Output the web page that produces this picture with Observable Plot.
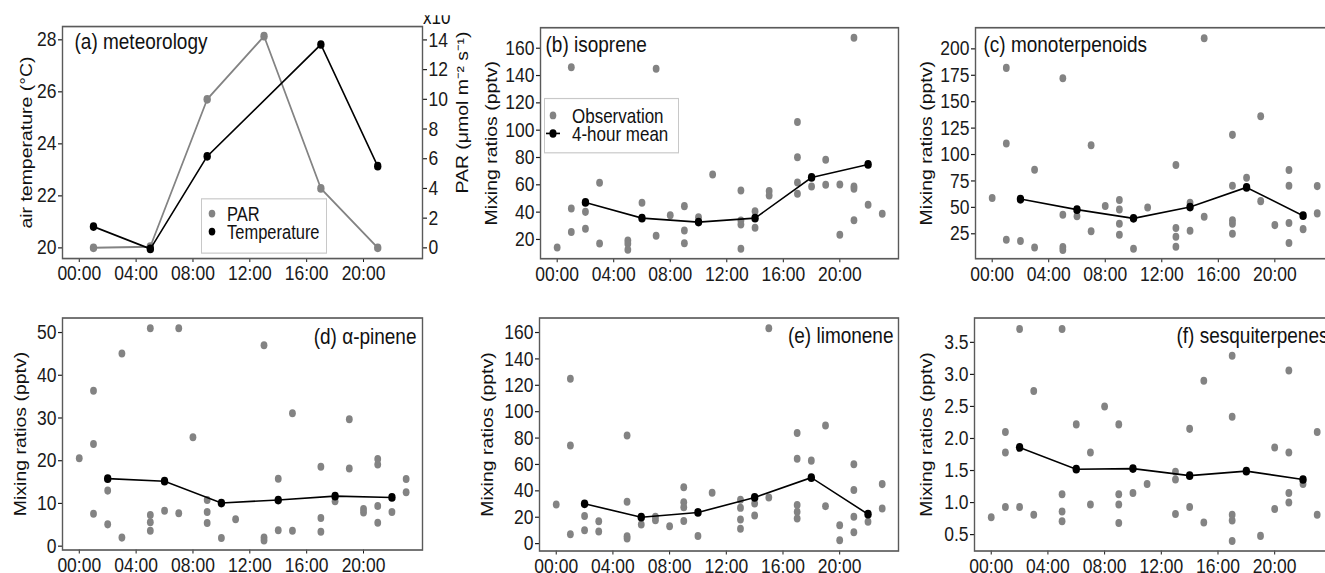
<!DOCTYPE html>
<html>
<head>
<meta charset="utf-8">
<script src="https://cdn.jsdelivr.net/npm/d3@7"></script>
<script src="https://cdn.jsdelivr.net/npm/@observablehq/plot@0.6"></script>
<style>
  html, body { margin: 0; padding: 0; background: #fff; }
  #fig { position: relative; width: 1325px; height: 573px; overflow: hidden; background: #fff;
         font-family: "Liberation Sans", Arial, sans-serif; color: #1a1a1a; }
  #inner { position: absolute; left: 0; top: 0; width: 1325px; transform-origin: 0 0; }
  #inner svg { position: absolute; overflow: visible; }
  .legend { position: absolute; box-sizing: border-box; border: 1.4px solid #c8c8c8; background: #fff; }
</style>
</head>
<body>
<div id="fig"><div id="inner"></div></div>
<script>
// ---------------- DATA ----------------
const xTicks = [0, 4, 8, 12, 16, 20];
const meanHours = [2, 6, 10, 14, 18, 22];

// (a) meteorology
const parHours = [1, 5, 9, 13, 17, 21];
const parValues = [0, 0.08, 10, 14.25, 4, 0];
const tempHours = [1, 5, 9, 17, 21];
const tempValues = [20.82, 19.96, 23.52, 27.82, 23.14];
const tempTicks = [20, 22, 24, 26, 28];
const parTicks = [0, 2, 4, 6, 8, 10, 12, 14];

// (b) isoprene observations [hour, pptv]
const isoprene = [[0,14.1],[1,146],[1,42.7],[1,25.4],[2,40.2],[2,27.8],[3,61.5],[3,17],[5,19.3],[5,16.8],[5,12.4],
  [6,46.8],[7,145],[7,22.7],[8,37.8],[9,44.4],[9,26.6],[9,17.3],[10,36.3],[11,67.6],[13,55.9],[13,33.9],[13,31],
  [13,13.2],[14,40.7],[14,28.5],[15,55.4],[15,52.2],[17,106],[17,80.2],[17,61.7],[17,53.4],[18,58.8],[19,78.3],
  [19,60],[20,60.2],[20,23.4],[21,167.6],[21,58.8],[21,57.1],[21,34.1],[22,45.4],[23,38.8]];
const isopreneMean = [47.1, 35.6, 32.7, 35.6, 65.4, 74.9];
const isopreneTicks = [20, 40, 60, 80, 100, 120, 140, 160];

// (c) monoterpenoids
const monoterpenoids = [[0,58.9],[1,182],[1,110.5],[1,19.4],[2,57.3],[2,18.1],[3,85.6],[3,12.1],[5,172.2],[5,43.1],
  [5,12.4],[5,9.6],[6,41.5],[7,108.8],[7,27.5],[8,51.2],[9,56.9],[9,48],[9,34.5],[9,24.1],[10,10.9],[11,49.9],
  [13,90],[13,30.4],[13,22.2],[13,12.7],[14,54.4],[14,27.9],[15,210],[15,41.2],[17,118.6],[17,70.4],[17,37.9],
  [17,34.5],[17,25],[18,78],[19,136.3],[19,55.9],[20,33.2],[21,85.3],[21,70.4],[21,35.1],[21,16.2],[22,29.4],
  [23,70.1],[23,44.3]];
const monoterpenoidsMean = [57.9, 47.8, 39.6, 50.3, 68.9, 42.1];
const monoterpenoidsTicks = [25, 50, 75, 100, 125, 150, 175, 200];

// (d) alpha-pinene
const apinene = [[0,20.6],[1,36.4],[1,23.9],[1,7.6],[2,13.0],[2,5.1],[3,45.1],[3,2.0],[5,51],[5,7.3],[5,5.6],[5,3.6],
  [6,8.3],[7,51],[7,7.7],[8,25.5],[9,10.8],[9,8.0],[9,5.4],[10,1.9],[11,6.3],[13,47],[13,2.0],[13,1.3],[14,15.8],
  [14,3.7],[15,31.1],[15,3.6],[17,18.6],[17,6.6],[17,3.4],[18,10.5],[19,29.7],[19,18.2],[20,8.7],[20,7.9],
  [21,20.4],[21,19.1],[21,9.4],[21,5.5],[22,8.0],[23,15.7],[23,12.6]];
const apineneMean = [15.8, 15.2, 10.1, 10.8, 11.7, 11.4];
const apineneTicks = [0, 10, 20, 30, 40, 50];

// (e) limonene
const limonene = [[0,29.7],[1,125],[1,74.3],[1,7.1],[2,21],[2,10.1],[3,17],[3,9.1],[5,81.9],[5,31.7],[5,5.6],[5,3.8],
  [6,14.5],[7,20.3],[7,17.7],[8,13.2],[9,42.8],[9,31.4],[9,27.6],[9,17.2],[10,5.8],[11,38.5],[13,33.2],[13,27.1],
  [13,18.3],[13,11.2],[14,30.4],[14,21.3],[15,163.3],[15,35],[17,83.9],[17,64.4],[17,29.2],[17,24.1],[17,19.0],
  [18,62.9],[19,89.5],[19,28.4],[20,13.9],[20,2.5],[21,60.1],[21,40.6],[21,20.3],[21,8.6],[22,16.5],[23,45.1],[23,26.6]];
const limoneneMean = [30.2, 20.0, 23.6, 35.0, 50.0, 22.3];
const limoneneTicks = [0, 20, 40, 60, 80, 100, 120, 140, 160];

// (f) sesquiterpenes
const sesquiterpenes = [[0,0.77],[1,2.10],[1,1.78],[1,0.93],[2,3.71],[2,0.93],[3,2.74],[3,0.81],[5,3.71],[5,1.13],
  [5,0.86],[5,0.71],[6,2.22],[7,1.78],[7,0.97],[8,2.50],[9,2.22],[9,1.13],[9,0.97],[9,0.68],[10,1.15],[11,1.29],
  [13,1.48],[13,1.36],[13,0.82],[14,2.15],[14,0.93],[15,2.90],[15,0.69],[17,3.29],[17,2.34],[17,0.81],[17,0.72],
  [17,0.40],[19,0.48],[20,1.86],[20,0.90],[21,3.06],[21,1.78],[21,1.15],[21,1.00],[22,1.29],[23,2.10],[23,0.81]];
const sesquiterpenesMean = [1.86, 1.52, 1.53, 1.42, 1.49, 1.36];
const sesquiterpenesTicks = [0.5, 1.0, 1.5, 2.0, 2.5, 3.0, 3.5];

// ---------------- LAYOUT ----------------
// The original figure is slightly stretched vertically; we draw in an unstretched
// space and stretch the whole figure with a CSS scaleY.
const S = 1.18;
const fig = document.getElementById("fig");
const inner = document.getElementById("inner");
inner.style.height = (573 / S) + "px";
inner.style.transform = `scaleY(${S})`;

const FONT = '"Liberation Sans", Arial, sans-serif';
const GRAY = "#838383";
const FRAME = "#5a5a5a";
const TICKFS = 17.5, TITLEFS = 19, AXLABFS = 16.5;
const xDomain = [-1.18, 24.15];
const hhmm = d => String(d).padStart(2, "0") + ":00";
const mL = 110, mT = 40, mR = 70, mB = 45;

function place(svg, x0, y0) {
  svg.style.left = (x0 - mL) + "px";
  svg.style.top = (y0 / S - mT) + "px";
  inner.appendChild(svg);
}

function baseOpts(frame, yDomain) {
  const [x0, y0, x1, y1] = frame;
  return {
    width: (x1 - x0) + mL + mR,
    height: (y1 - y0) / S + mT + mB,
    marginLeft: mL, marginTop: mT, marginRight: mR, marginBottom: mB,
    style: { background: "transparent", overflow: "visible", fontFamily: FONT, fontSize: TICKFS + "px", color: "#1a1a1a" },
    x: { domain: xDomain, ticks: xTicks, tickFormat: hhmm, tickSize: 3.5, tickPadding: 2.6, label: null },
    y: { domain: yDomain, label: null, tickSize: 4, tickPadding: 2 }
  };
}

function panel(cfg) {
  const opts = baseOpts(cfg.frame, cfg.yDomain);
  opts.y.ticks = cfg.yTicks;
  opts.y.tickFormat = cfg.yFmt || (d => String(d));
  const obs = cfg.obs.map(([h, v]) => ({ h, v }));
  const mean = meanHours.map((h, i) => ({ h, v: cfg.mean[i] }));
  const right = cfg.titleSide === "right";
  opts.marks = [
    Plot.dot(obs, { x: "h", y: "v", r: 3.4, fill: GRAY, stroke: "none" }),
    Plot.line(mean, { x: "h", y: "v", stroke: "#000", strokeWidth: 1.4 }),
    Plot.dot(mean, { x: "h", y: "v", r: 3.7, fill: "#000", stroke: "none" }),
    Plot.frame({ stroke: FRAME, strokeWidth: 1.4 }),
    Plot.text([cfg.title], {
      frameAnchor: right ? "top-right" : "top-left", textAnchor: right ? "end" : "start",
      lineAnchor: "top", dx: cfg.titleDx, dy: cfg.titleDy / S, fontSize: TITLEFS, fill: "#111"
    }),
    Plot.text(["Mixing ratios (pptv)"], {
      frameAnchor: "left", textAnchor: "middle", lineAnchor: "middle", rotate: -90,
      dx: cfg.labelDx, fontSize: AXLABFS, fill: "#111"
    })
  ];
  place(Plot.plot(opts), cfg.frame[0], cfg.frame[1]);
}

// (a) meteorology
(function () {
  const frame = [62, 26, 422, 258];
  // PAR (right axis) drawn first, underneath
  const opts2 = baseOpts(frame, [-0.72, 14.9]);
  opts2.x = { domain: xDomain, axis: null };
  opts2.y = { domain: [-0.72, 14.9], axis: "right", ticks: parTicks, tickFormat: d => String(d),
              tickSize: 4, tickPadding: 2, label: null };
  const par = parHours.map((h, i) => ({ h, v: parValues[i] }));
  opts2.marks = [
    Plot.line(par, { x: "h", y: "v", stroke: GRAY, strokeWidth: 1.7 }),
    Plot.dot(par, { x: "h", y: "v", r: 3.7, fill: GRAY, stroke: "none" }),
    Plot.text(["PAR (μmol m⁻² s⁻¹)"], {
      frameAnchor: "right", textAnchor: "middle", lineAnchor: "middle", rotate: -90,
      dx: 40, dy: -30 / S, fontSize: AXLABFS, fill: "#111"
    })
  ];
  place(Plot.plot(opts2), frame[0], frame[1]);

  // Temperature (left axis)
  const opts = baseOpts(frame, [19.59, 28.51]);
  opts.y.ticks = tempTicks;
  opts.y.tickFormat = d => String(d);
  const temp = tempHours.map((h, i) => ({ h, v: tempValues[i] }));
  opts.marks = [
    Plot.line(temp, { x: "h", y: "v", stroke: "#000", strokeWidth: 1.5 }),
    Plot.dot(temp, { x: "h", y: "v", r: 3.7, fill: "#000", stroke: "none" }),
    Plot.frame({ stroke: FRAME, strokeWidth: 1.4 }),
    Plot.text(["(a) meteorology"], {
      frameAnchor: "top-left", textAnchor: "start", lineAnchor: "top", dx: 12, dy: 7 / S, fontSize: TITLEFS, fill: "#111"
    }),
    Plot.text(["air temperature (°C)"], {
      frameAnchor: "left", textAnchor: "middle", lineAnchor: "middle", rotate: -90, dx: -36, fontSize: AXLABFS, fill: "#111"
    })
  ];
  place(Plot.plot(opts), frame[0], frame[1]);
})();

panel({ frame: [540, 27, 898, 258], yDomain: [5.9, 175], yTicks: isopreneTicks, obs: isoprene, mean: isopreneMean,
        title: "(b) isoprene", titleDx: 5, titleDy: 8, labelDx: -49 });
panel({ frame: [975, 27, 1333, 258], yDomain: [1.4, 220], yTicks: monoterpenoidsTicks, obs: monoterpenoids,
        mean: monoterpenoidsMean, title: "(c) monoterpenoids", titleDx: 8, titleDy: 8, labelDx: -49 });
panel({ frame: [62, 317, 422, 549], yDomain: [-0.9, 53.4], yTicks: apineneTicks, obs: apinene, mean: apineneMean,
        title: "(d) α-pinene", titleSide: "right", titleDx: -6, titleDy: 10, labelDx: -42 });
panel({ frame: [539, 318, 898, 551], yDomain: [-5.6, 171], yTicks: limoneneTicks, obs: limonene, mean: limoneneMean,
        title: "(e) limonene", titleSide: "right", titleDx: -5, titleDy: 9, labelDx: -52 });
panel({ frame: [974, 318, 1333, 551], yDomain: [0.244, 3.88], yTicks: sesquiterpenesTicks, obs: sesquiterpenes,
        mean: sesquiterpenesMean, yFmt: d => d.toFixed(1), title: "(f) sesquiterpenes", titleSide: "right",
        titleDx: -5, titleDy: 9, labelDx: -48 });

// "x10" exponent label above the PAR axis, clipped at the top as in the original
(function () {
  const clip = document.createElement("div");
  const top = 15 / S, base = 24.5 / S;
  clip.style.cssText = `position:absolute;left:423px;top:${top}px;width:30px;height:${base - top + 1}px;overflow:hidden;`;
  const t = document.createElement("div");
  t.textContent = "x10";
  t.style.cssText = `position:absolute;left:0;top:${base - 14.4 - top}px;font-family:${FONT};font-size:17px;line-height:17px;color:#111;white-space:nowrap;`;
  clip.appendChild(t);
  inner.appendChild(clip);
})();

// ---------------- LEGENDS ----------------
function legend(box, items) {
  const [x0, y0, x1, y1] = box;
  const div = document.createElement("div");
  div.className = "legend";
  div.style.left = x0 + "px"; div.style.top = (y0 / S) + "px";
  div.style.width = (x1 - x0) + "px"; div.style.height = ((y1 - y0) / S) + "px";
  const svg = d3.create("svg").attr("width", x1 - x0).attr("height", (y1 - y0) / S)
    .style("position", "absolute").style("left", "-1.4px").style("top", "-1.4px");
  for (const it of items) {
    const y = it.y / S;
    if (it.line) {
      svg.append("line").attr("x1", it.sx - 7).attr("x2", it.sx + 7).attr("y1", y).attr("y2", y)
        .attr("stroke", it.color).attr("stroke-width", 1.4);
    }
    svg.append("circle").attr("cx", it.sx).attr("cy", y).attr("r", it.r).attr("fill", it.color);
    svg.append("text").attr("x", it.tx).attr("y", y).attr("dy", "0.36em")
      .attr("font-family", FONT).attr("font-size", it.fs).attr("fill", "#111").text(it.label);
  }
  div.appendChild(svg.node());
  inner.appendChild(div);
}

const legendA = ["PAR", "Temperature"];
const legendB = ["Observation", "4-hour mean"];
legend([201, 198, 327, 254], [
  { label: legendA[0], color: GRAY, sx: 11, tx: 26, y: 16.5, r: 3.3, fs: 16.5 },
  { label: legendA[1], color: "#000", sx: 11, tx: 26, y: 34.5, r: 3.3, fs: 16.5 }
]);
legend([544, 98, 679, 153], [
  { label: legendB[0], color: GRAY, sx: 9, tx: 28, y: 17.5, r: 3.3, fs: 17 },
  { label: legendB[1], color: "#000", sx: 9, tx: 28, y: 35.5, r: 3.6, fs: 17, line: true }
]);
</script>
</body>
</html>
